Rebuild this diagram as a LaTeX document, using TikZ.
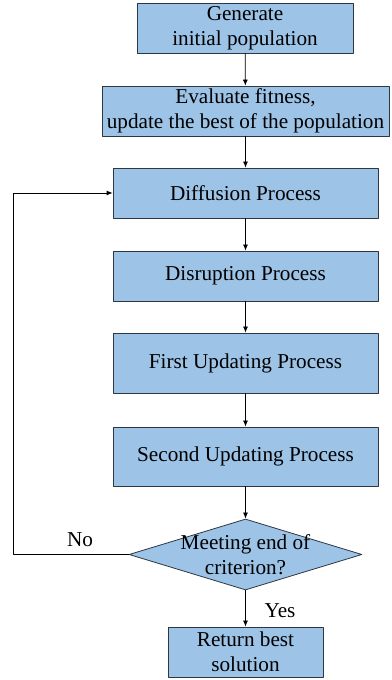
\documentclass[tikz,border=0pt]{standalone}
\usepackage{fontspec}
\setmainfont{Liberation Serif}
\usetikzlibrary{arrows.meta,shapes.geometric}
\definecolor{boxblue}{RGB}{157,195,230}
\definecolor{boxedge}{RGB}{45,55,68}
\tikzset{
  procbox/.style={draw=boxedge,fill=boxblue,line width=0.8pt,inner sep=0pt,align=center,
    font=\fontsize{21.2}{25}\selectfont},
  decbox/.style={draw=boxedge,fill=boxblue,line width=0.8pt,diamond,inner sep=0pt,
    minimum width=233pt,minimum height=71pt},
  flow/.style={-{Latex[length=6pt,width=5pt]},line width=0.8pt},
  lbl/.style={font=\fontsize{21.2}{25}\selectfont}
}
\begin{document}
\begin{tikzpicture}[line cap=round,line join=round,x=1pt,y=1pt]
\useasboundingbox (0,0) rectangle (391,680);

\node[procbox,minimum width=216pt,minimum height=50pt] (gen) at (245,652) {Generate\\initial population};
\node[procbox,minimum width=287pt,minimum height=50pt] (eval) at (245.5,569) {Evaluate fitness,\\update the best of the population};
\node[procbox,minimum width=265pt,minimum height=50pt] (diff) at (245.5,487) {Diffusion Process};
\node[procbox,minimum width=265pt,minimum height=50pt] (disr) at (245.5,404) {Disruption Process};
\node[procbox,minimum width=265pt,minimum height=60pt] (first) at (245.5,317) {First Updating Process};
\node[procbox,minimum width=265pt,minimum height=59pt] (second) at (245.5,223.5) {Second Updating Process};

% decision
\node[decbox] (crit) at (245.5,125.5) {};
\node[lbl,align=center] (crittext) at (crit) {Meeting end of\\criterion?};

\node[procbox,minimum width=155pt,minimum height=50pt] (ret) at (245.5,28) {Return best\\solution};

\draw[flow] (gen) -- (eval);
\draw[flow] (eval) -- (diff);
\draw[flow] (diff) -- (disr);
\draw[flow] (disr) -- (first);
\draw[flow] (first) -- (second);
\draw[flow] (second) -- (crit);
\draw[flow] (crit) -- (ret);

% loop back
\coordinate (cornerlow) at (13,125.5);
\coordinate (cornerup) at (13,487);
\draw[flow] (crit.west) -- (cornerlow) -- (cornerup) -- (diff.west);

\node[lbl] (no) at (80,140) {No};
\node[lbl] (yes) at (280,69) {Yes};
\end{tikzpicture}
\end{document}
